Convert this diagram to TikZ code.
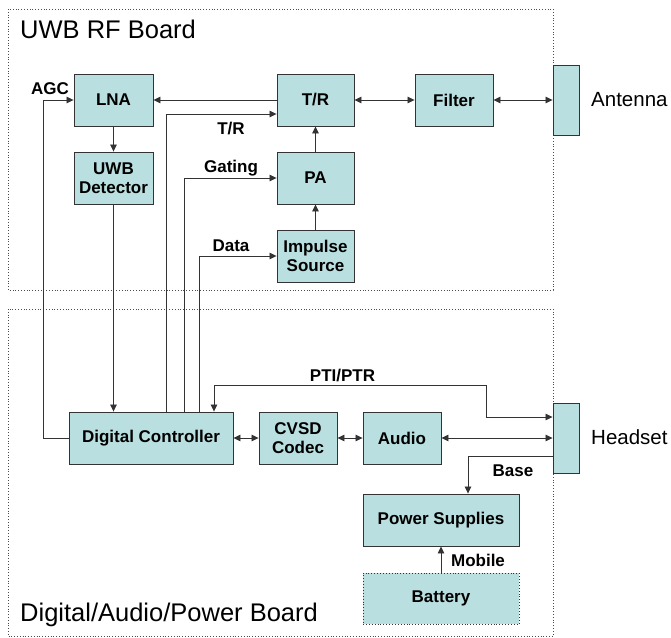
\documentclass[tikz,border=0pt]{standalone}
\usepackage{fontspec}
\setmainfont{Liberation Sans}
\usetikzlibrary{arrows.meta}
\definecolor{boxfill}{HTML}{B9DFE0}
\definecolor{linec}{HTML}{333333}
\begin{document}
\begin{tikzpicture}[x=1pt,y=-1pt,
  blk/.style={draw=linec,line width=0.9pt,fill=boxfill,align=center,inner sep=0pt,
    font=\fontsize{17}{19}\selectfont\bfseries,minimum width=78pt,minimum height=52pt},
  port/.style={draw=linec,line width=0.9pt,fill=boxfill,inner sep=0pt,minimum width=26pt,minimum height=70pt},
  conn/.style={draw=linec,line width=0.8pt},
  arr/.style={conn,-{Triangle[length=7pt,width=6.5pt]}},
  darr/.style={conn,{Triangle[length=7pt,width=6.5pt]}-{Triangle[length=7pt,width=6.5pt]}},
  lbl/.style={font=\fontsize{17}{19}\selectfont\bfseries,inner sep=0pt},
  board/.style={draw=black!70,line width=0.8pt,dotted},
  btitle/.style={font=\fontsize{25.5}{28}\selectfont,inner sep=0pt,anchor=west},
  ptitle/.style={font=\fontsize{20.5}{23}\selectfont,inner sep=0pt,anchor=west}]
\useasboundingbox (0,0) rectangle (671,637);
% boards
\draw[board] (8,9) rectangle (553,290);
\draw[board] (8,309) rectangle (553,636);
\node[btitle] (t1) at (20,29) {UWB RF Board};
\node[btitle] (t2) at (20,615) {Digital/Audio/Power Board};
% blocks
\node[blk,minimum width=79pt] (LNA) at (113.5,100) {LNA};
\node[blk,minimum width=79pt] (UWB) at (113.5,178) {UWB\\Detector};
\node[blk,minimum width=77pt] (TR) at (315.5,100) {T/R};
\node[blk,minimum width=77pt] (PA) at (315.5,178) {PA};
\node[blk,minimum width=77pt] (IMP) at (315.5,256) {Impulse\\Source};
\node[blk] (FIL) at (454,100) {Filter};
\node[port] (ANT) at (566,100) {};
\node[ptitle] (antl) at (591,100) {Antenna};
\node[blk,minimum width=164pt] (DC) at (151,438) {Digital Controller};
\node[blk] (CVSD) at (298,438) {CVSD\\Codec};
\node[blk] (AUD) at (402,438) {Audio};
\node[port] (HS) at (566,438) {};
\node[ptitle] (hsl) at (591,437) {Headset};
\node[blk,minimum width=156pt] (PS) at (441,520) {Power Supplies};
\node[blk,minimum width=156pt,minimum height=51pt,dotted] (BAT) at (441,598.5) {Battery};
% connectors
\draw[arr] (TR.west) -- (LNA.east);
\draw[arr] (LNA) -- (UWB);
\draw[arr] (PA) -- (TR);
\draw[arr] (IMP) -- (PA);
\draw[darr] (TR) -- (FIL);
\draw[darr] (FIL) -- (ANT);
\coordinate (agc) at (43,100);
\draw[arr] (DC.west) -- (DC.west -| agc) -- (agc) -- (LNA.west);
\draw[arr] (UWB.south) -- (UWB.south |- DC.north);
\coordinate (trc) at (166,114);
\draw[arr] (trc |- DC.north) -- (trc) -- (trc -| TR.west);
\coordinate (gc) at (184,178);
\draw[arr] (gc |- DC.north) -- (gc) -- (PA.west);
\coordinate (dc) at (199,256);
\draw[arr] (dc |- DC.north) -- (dc) -- (IMP.west);
\coordinate (p1) at (214,385);
\coordinate (p2) at (486,385);
\coordinate (p3) at (486,417);
\draw[darr] (p1 |- DC.north) -- (p1) -- (p2) -- (p3) -- (p3 -| HS.west);
\draw[darr] (DC) -- (CVSD);
\draw[darr] (CVSD) -- (AUD);
\draw[darr] (AUD) -- (HS);
\coordinate (b1) at (468,456);
\draw[arr] (b1 -| HS.west) -- (b1) -- (b1 |- PS.north);
\draw[arr] (BAT) -- (PS);
% labels
\node[lbl] (lagc) at (50,89) {AGC};
\node[lbl] (ltr) at (231,129) {T/R};
\node[lbl] (lgat) at (231,168) {Gating};
\node[lbl] (ldat) at (231,246) {Data};
\node[lbl] (lpti) at (342.5,376) {PTI/PTR};
\node[lbl] (lbase) at (513,471) {Base};
\node[lbl] (lmob) at (478,560) {Mobile};
\end{tikzpicture}
\end{document}
